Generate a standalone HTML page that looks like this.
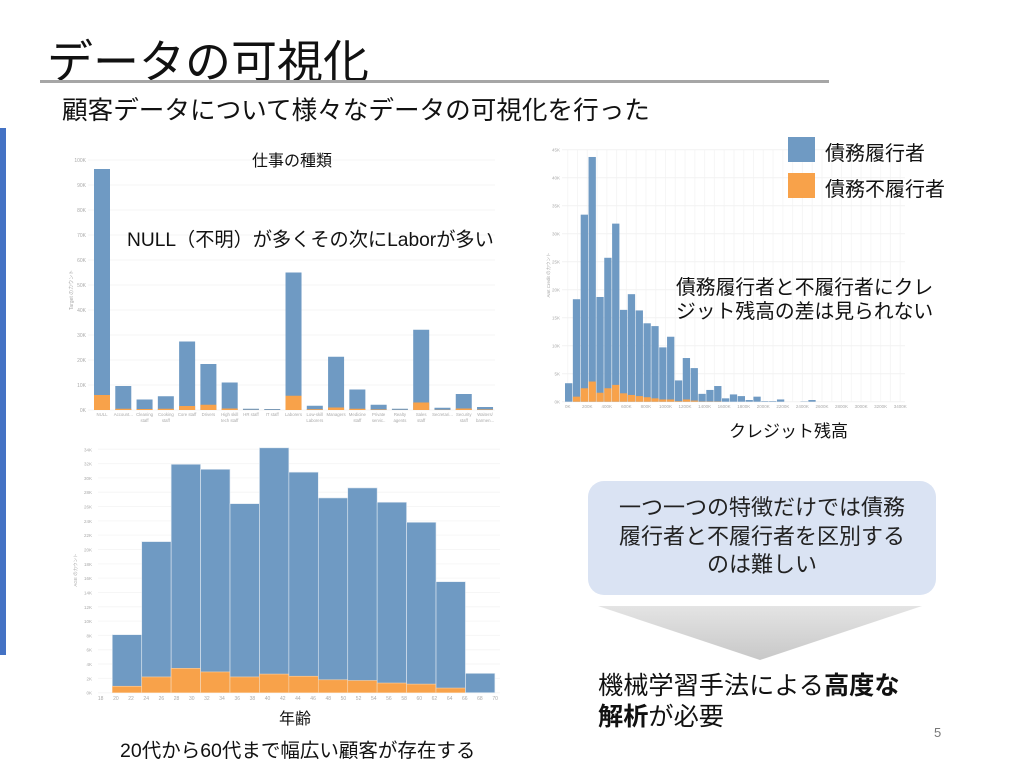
<!DOCTYPE html>
<html><head><meta charset="utf-8">
<style>
body{margin:0;background:#fff;}
#slide{position:relative;width:1024px;height:768px;overflow:hidden;background:#fff;font-family:"Liberation Sans","Noto Sans CJK JP",sans-serif;}
.t{position:absolute;white-space:nowrap;color:#111;}
</style></head>
<body>
<div id="slide">
<div style="position:absolute;left:0;top:128px;width:6px;height:527px;background:#4472c4"></div>
<div class="t" style="left:47px;top:26px;font-size:46px;">データの可視化</div>
<div style="position:absolute;left:40px;top:80px;width:789px;height:3px;background:#a6a6a6"></div>
<div class="t" style="left:62px;top:90px;font-size:25.6px;">顧客データについて様々なデータの可視化を行った</div>

<svg id="chart" width="1024" height="768" style="position:absolute;left:0;top:0"></svg>

<div class="t" style="left:252px;top:147px;font-size:16px;">仕事の種類</div>
<div class="t" style="left:127px;top:224px;font-size:19.2px;">NULL（不明）が多くその次にLaborが多い</div>
<div style="position:absolute;left:788px;top:137px;width:27px;height:25px;background:#6f9ac3"></div>
<div class="t" style="left:825px;top:137px;font-size:20px;">債務履行者</div>
<div style="position:absolute;left:788px;top:173px;width:27px;height:25px;background:#f8a24a"></div>
<div class="t" style="left:825px;top:173px;font-size:20px;">債務不履行者</div>
<div class="t" style="left:676px;top:276px;font-size:19.8px;line-height:24px;">債務履行者と不履行者にクレ<br>ジット残高の差は見られない</div>
<div class="t" style="left:729px;top:417px;font-size:17px;">クレジット残高</div>
<div class="t" style="left:279px;top:705px;font-size:16px;">年齢</div>
<div class="t" style="left:120px;top:734px;font-size:19.5px;">20代から60代まで幅広い顧客が存在する</div>
<div style="position:absolute;left:588px;top:481px;width:348px;height:114px;border-radius:16px;background:#dae3f3;font-size:22px;line-height:28.5px;text-align:center;color:#222;padding-top:13px;box-sizing:border-box;">一つ一つの特徴だけでは債務<br>履行者と不履行者を区別する<br>のは難しい</div>
<svg width="1024" height="768" style="position:absolute;left:0;top:0">
<defs><linearGradient id="g" x1="0" y1="0" x2="0" y2="1"><stop offset="0" stop-color="#e4e4e4"/><stop offset="1" stop-color="#c8c8c8"/></linearGradient></defs>
<polygon points="598,606 922,606 760,660" fill="url(#g)"/>
</svg>
<div class="t" style="left:598px;top:671px;font-size:25.2px;line-height:31px;">機械学習手法による<b>高度な</b><br><b>解析</b>が必要</div>
<div class="t" style="left:934px;top:725px;font-size:13px;color:#777;">5</div>
</div>
<script>
// Job type chart data (K)
const jobCats=["NULL","Account...","Cleaning|staff","Cooking|staff","Core staff","Drivers","High skill|tech staff","HR staff","IT staff","Laborers","Low-skill|Laborers","Managers","Medicine|staff","Private|servic..","Realty|agents","Sales|staff","Secretari...","Security|staff","Waiters/|barmen..."];
const jobTotal=[96.4,9.6,4.2,5.5,27.4,18.4,11.0,0.5,0.4,55.0,1.7,21.3,8.2,2.1,0.5,32.1,0.9,6.4,1.2];
const jobDefault=[6.0,0.5,0.4,0.5,1.6,2.1,0.6,0.05,0.04,5.7,0.3,1.0,0.5,0.2,0.05,3.0,0.1,0.6,0.2];
const jobTicks=["0K","10K","20K","30K","40K","50K","60K","70K","80K","90K","100K"];
// Credit chart data (K)
const creditTotal=[3.3,18.3,33.4,43.7,18.7,25.7,31.8,16.4,19.2,16.3,14.0,13.5,9.7,11.6,3.8,7.8,6.0,1.4,2.1,2.8,0.6,1.3,1.0,0.3,0.9,0.1,0.1,0.4,0,0,0.05,0.3];
const creditDefault=[0,0.9,2.4,3.6,1.6,2.4,3.0,1.5,1.2,1.0,0.8,0.6,0.4,0.4,0.1,0.4,0.2,0.05,0.05,0.05,0,0,0,0,0,0,0,0,0,0,0,0];
const creditYTicks=["0K","5K","10K","15K","20K","25K","30K","35K","40K","45K"];
const creditXTicks=["0K","200K","400K","600K","800K","1000K","1200K","1400K","1600K","1800K","2000K","2200K","2400K","2600K","2800K","3000K","3200K","3400K"];
// Age chart data (K)
const ageTotal=[8.1,21.1,31.9,31.2,26.4,34.2,30.8,27.2,28.6,26.6,23.8,15.5,2.7];
const ageDefault=[0.9,2.2,3.4,2.9,2.2,2.6,2.3,1.8,1.7,1.35,1.2,0.65,0];
const ageYTicks=["0K","2K","4K","6K","8K","10K","12K","14K","16K","18K","20K","22K","24K","26K","28K","30K","32K","34K"];
const ageXTicks=["18","20","22","24","26","28","30","32","34","36","38","40","42","44","46","48","50","52","54","56","58","60","62","64","66","68","70"];

const svg=document.getElementById('chart');
const NS="http://www.w3.org/2000/svg";
const BLUE="#6f9ac3",ORANGE="#f8a24a";
function mk(tag,attrs){const e=document.createElementNS(NS,tag);for(const k in attrs)e.setAttribute(k,attrs[k]);svg.appendChild(e);return e;}
function txt(x,y,s,size,anchor,rot){const e=mk('text',{x:x,y:y,'font-size':size,fill:'#aaa','text-anchor':anchor||'middle','font-family':'Liberation Sans, Noto Sans CJK JP, sans-serif'});if(rot)e.setAttribute('transform','rotate(-90 '+x+' '+y+')');e.textContent=s;return e;}

// ---- Job chart ----
const jy=v=>410-v*2.5;
const jx=i=>102+i*21.28;
jobTicks.forEach((t,i)=>{
  const l=mk('line',{x1:88,x2:495,y1:jy(i*10),y2:jy(i*10),stroke:'#f4f4f4'});
  
  
  const e=txt(86,jy(i*10)+2,t,5,'end');
  
  
});
{const e=txt(73,290,"Target のカウント",5,'middle',true);

}
jobCats.forEach((c,i)=>{
  const b=mk('rect',{x:jx(i)-8,y:jy(jobTotal[i]),width:16,height:jobTotal[i]*2.5,fill:BLUE});
  
  
  const o=mk('rect',{x:jx(i)-8,y:jy(jobDefault[i]),width:16,height:jobDefault[i]*2.5,fill:ORANGE});
  
  
  const parts=c.split('|');
  const e=txt(jx(i),416,parts[0],4.3);
  
  
  if(parts[1]){const e2=txt(jx(i),422,parts[1],4.3);
  
  }
});

// ---- Credit chart ----
const cy=v=>401.7-v*5.6;
const cx=i=>565+i*7.85;
for(let i=0;i<=34;i++){const l=mk('line',{x1:567.7+i*9.78,x2:567.7+i*9.78,y1:150,y2:402,stroke:'#f6f6f6'});

}
creditYTicks.forEach((t,i)=>{
  const l=mk('line',{x1:562,x2:905,y1:cy(i*5),y2:cy(i*5),stroke:'#f2f2f2'});
  
  
  const e=txt(560,cy(i*5)+2,t,4.5,'end');
  
  
});
{const e=txt(550,275,"Amt Credit のカウント",4.5,'middle',true);

}
creditXTicks.forEach((t,i)=>{
  const e=txt(567.7+i*19.56,408,t,4.5);
  
  
});
creditTotal.forEach((v,i)=>{
  const b=mk('rect',{x:cx(i),y:cy(v),width:7.3,height:v*5.6,fill:BLUE});
  
  
  const d=creditDefault[i];
  const o=mk('rect',{x:cx(i),y:cy(d),width:7.3,height:d*5.6,fill:ORANGE});
  
  
});

// ---- Age chart ----
const ay=v=>692.7-v*7.16;
const ax=i=>112.3+i*29.43;
ageYTicks.forEach((t,i)=>{
  const l=mk('line',{x1:98,x2:500,y1:ay(i*2),y2:ay(i*2),stroke:'#f6f6f6'});
  
  
  const e=txt(92,ay(i*2)+2,t,4.5,'end');
  
  
});
{const e=txt(77,570,"AGE のカウント",4.5,'middle',true);

}
ageXTicks.forEach((t,i)=>{
  const e=txt(100.7+i*15.17,700,t,5);
  
  
});
ageTotal.forEach((v,i)=>{
  const b=mk('rect',{x:ax(i),y:ay(v),width:29.4,height:v*7.16,fill:BLUE,stroke:'#dfe8f1','stroke-width':0.6});
  
  
  const d=ageDefault[i];
  const o=mk('rect',{x:ax(i),y:ay(d),width:29.4,height:d*7.16,fill:ORANGE,stroke:'#fbd3a8','stroke-width':0.6});
  
  
});
</script>
</body></html>
